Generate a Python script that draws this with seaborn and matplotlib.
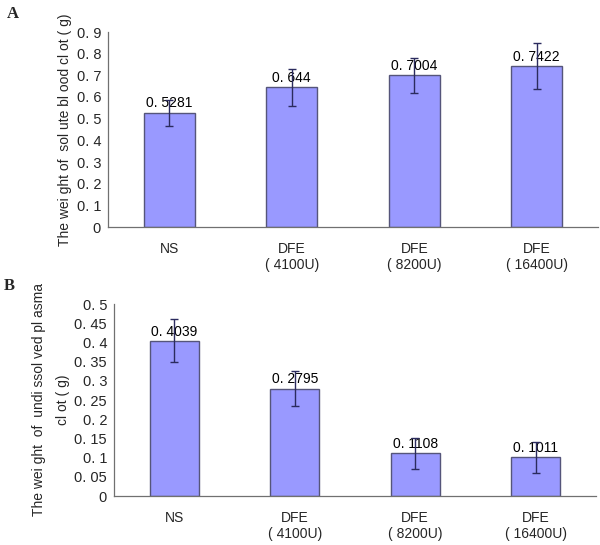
import pandas as pd
import numpy as np
import matplotlib
matplotlib.use('Agg')
import matplotlib.pyplot as plt
import seaborn as sns
from matplotlib.ticker import FixedLocator, FuncFormatter

# data
groups = ['NS', 'DFE\n( 4100U)', 'DFE\n( 8200U)', 'DFE\n( 16400U)']
solute_clot = [0.5281, 0.644, 0.7004, 0.7422]
solute_err = [0.06, 0.085, 0.08, 0.106]
plasma_clot = [0.4039, 0.2795, 0.1108, 0.1011]
plasma_err = [0.056, 0.045, 0.04, 0.04]
labels_a = ['0. 5281', '0. 644', '0. 7004', '0. 7422']
labels_b = ['0. 4039', '0. 2795', '0. 1108', '0. 1011']

sns.set_theme(style="white")
plt.rcParams['font.family'] = ['Liberation Sans', 'DejaVu Sans']

BAR = '#9999ff'
EDGE = '#55557a'
ERR = '#2b2b5e'
AXC = '#707070'

fig = plt.figure(figsize=(6.0, 5.45), dpi=100)
W, H = 600, 545


def panel(box, values, errs, vlabels, ymax, ystep, ylabel, tickfmt, width, ls):
    left, top, right, bottom = box
    ax = fig.add_axes([left / W, 1 - bottom / H, (right - left) / W, (bottom - top) / H])
    df = pd.DataFrame({'group': groups, 'value': values})
    sns.barplot(data=df, x='group', y='value', ax=ax, color=BAR, width=width,
                edgecolor=EDGE, linewidth=1.0, saturation=1, errorbar=None)
    x = np.arange(len(groups))
    ax.errorbar(x, values, yerr=errs, fmt='none', ecolor=ERR, elinewidth=1.0,
                capsize=3, capthick=1.0, zorder=4)
    for xi, v, t in zip(x, values, vlabels):
        ax.text(xi, v + ymax * 0.012, t, ha='center', va='bottom', fontsize=10,
                color='black', zorder=3)
    ax.set_xlim(-0.5, len(groups) - 0.5)
    ax.set_ylim(0, ymax)
    ticks = np.round(np.arange(0, ymax + 1e-9, ystep), 3)
    ax.yaxis.set_major_locator(FixedLocator(ticks))
    ax.yaxis.set_major_formatter(FuncFormatter(tickfmt))
    ax.set_xticks(x)
    ax.set_xticklabels(groups, fontsize=10, linespacing=1.15)
    ax.xaxis.set_minor_locator(FixedLocator(np.arange(0.5, len(groups), 1.0)))
    ax.tick_params(axis='x', which='major', length=0, pad=11)
    ax.tick_params(axis='x', which='minor', length=4, direction='in', color=AXC, width=0.8)
    ax.tick_params(axis='y', length=4, direction='in', color=AXC, width=0.8,
                   labelsize=10.5, pad=5)
    for s in ['top', 'right']:
        ax.spines[s].set_visible(False)
    for s in ['left', 'bottom']:
        ax.spines[s].set_color(AXC)
        ax.spines[s].set_linewidth(0.9)
    ax.set_xlabel('')
    ax.set_ylabel(ylabel, fontsize=10, linespacing=ls, labelpad=3)
    return ax


def fmt_a(v, pos):
    return '0' if v == 0 else '0. %g' % (v * 10)


def fmt_b(v, pos):
    if v == 0:
        return '0'
    s = ('%.2f' % v).rstrip('0')
    return s.replace('0.', '0. ')


ax_a = panel((108, 32, 598, 227), solute_clot, solute_err, labels_a, 0.9, 0.1,
             'The wei ght of  sol ute bl ood cl ot ( g)', fmt_a, 0.42, 1.3)
ax_b = panel((114, 304, 596, 496), plasma_clot, plasma_err, labels_b, 0.5, 0.05,
             'The wei ght  of  undi ssol ved pl asma\ncl ot ( g)', fmt_b, 0.41, 1.9)

fig.text(7 / W, 1 - 14 / H, 'A', fontsize=12, fontweight='bold',
         family='Liberation Serif', ha='left', va='center')
fig.text(4 / W, 1 - 286 / H, 'B', fontsize=12, fontweight='bold',
         family='Liberation Serif', ha='left', va='center')

fig.savefig('out.png', dpi=100)
